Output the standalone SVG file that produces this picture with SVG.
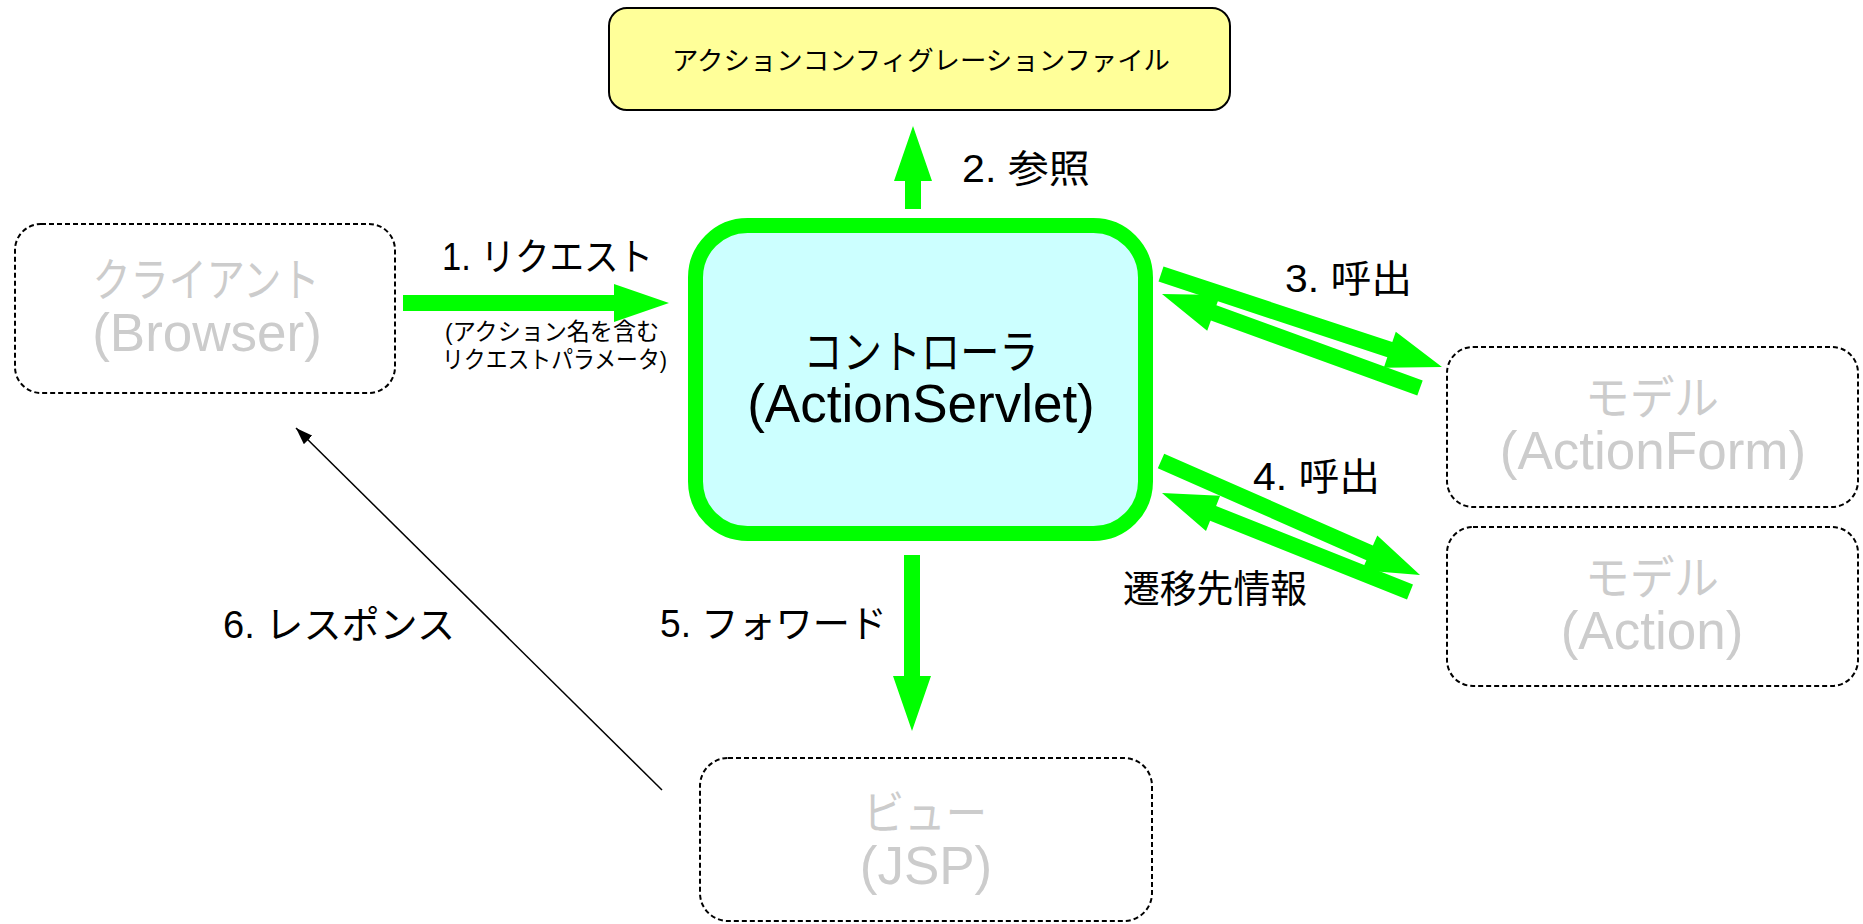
<svg xmlns="http://www.w3.org/2000/svg" width="1863" height="924" viewBox="0 0 1863 924">
<style>
text { font-family: "Liberation Sans", "Noto Sans CJK JP", sans-serif; }
.lbl { fill: #000; font-size: 38px; }
.sub { fill: #000; font-size: 24px; }
.ghost { fill: #CCCCCC; }
.big { font-size: 53px; text-anchor: middle; }
.kana { font-size: 46px; text-anchor: middle; }
.dash { fill: #FFFFFF; stroke: #000; stroke-width: 2; stroke-dasharray: 5 3; }
.garrow { fill: #00FF00; stroke: none; }
</style>
<defs>
<marker id="blk" viewBox="0 -6 17 12" refX="17" refY="0" markerWidth="17" markerHeight="12" markerUnits="userSpaceOnUse" orient="auto">
<path d="M0,-6 L17,0 L0,6 z" fill="#000"/>
</marker>
</defs>
<rect width="1863" height="924" fill="#FFFFFF"/>

<g id="config">
<rect x="609" y="8" width="621" height="102" rx="18" ry="18" fill="#FFFF99" stroke="#000" stroke-width="2"/>
<text x="921" y="70" font-size="26" text-anchor="middle" textLength="498" lengthAdjust="spacingAndGlyphs" fill="#000">アクションコンフィグレーションファイル</text>
</g>

<g id="client">
<rect class="dash" x="15" y="224" width="380" height="169" rx="26" ry="26"/>
<text class="ghost kana" x="206" y="296" textLength="227" lengthAdjust="spacingAndGlyphs">クライアント</text>
<text class="ghost big" x="207" y="351">(Browser)</text>
</g>

<g id="controller">
<rect x="695.5" y="225.5" width="450" height="308" rx="52" ry="52" fill="#CCFFFF" stroke="#00FF00" stroke-width="15"/>
<text class="kana" x="921" y="368" fill="#000" textLength="235" lengthAdjust="spacingAndGlyphs">コントローラ</text>
<text class="big" x="921" y="422" fill="#000">(ActionServlet)</text>
</g>

<g id="actionform">
<rect class="dash" x="1447" y="347" width="411" height="160" rx="26" ry="26"/>
<text class="ghost kana" x="1652" y="414" textLength="134" lengthAdjust="spacingAndGlyphs">モデル</text>
<text class="ghost big" x="1653" y="469">(ActionForm)</text>
</g>

<g id="action">
<rect class="dash" x="1447" y="527" width="411" height="159" rx="26" ry="26"/>
<text class="ghost kana" x="1652" y="594" textLength="134" lengthAdjust="spacingAndGlyphs">モデル</text>
<text class="ghost big" x="1652" y="649">(Action)</text>
</g>

<g id="view">
<rect class="dash" x="700" y="758" width="452" height="163" rx="28" ry="28"/>
<text class="ghost kana" x="925" y="829" textLength="124" lengthAdjust="spacingAndGlyphs">ビュー</text>
<text class="ghost big" x="926" y="884">(JSP)</text>
</g>

<g id="connectors">
<polygon class="garrow" points="403,295 614,295 614,284 669,303 614,322 614,311 403,311"/>
<polygon class="garrow" points="905,209 905,181 894,181 913,126 932,181 921,181 921,209"/>
<polygon class="garrow" points="1163.5,266.4 1392.3,342.1 1395.8,331.7 1442,367 1383.8,367.8 1387.3,357.3 1158.5,281.6"/>
<polygon class="garrow" points="1422.7,380.5 1216.4,305.3 1220.2,295 1162,294 1207.2,330.7 1210.9,320.4 1417.3,395.5"/>
<polygon class="garrow" points="1164.2,453.7 1372.9,545.5 1377.3,535.5 1420,575 1362,570.2 1366.4,560.2 1157.8,468.3"/>
<polygon class="garrow" points="1413,584.6 1216.1,506 1220.1,495.7 1162,493 1206,531 1210.1,520.8 1407,599.4"/>
<polygon class="garrow" points="904,555 904,676 893,676 912,731 931,676 920,676 920,555"/>
<line x1="662" y1="790" x2="296" y2="428" stroke="#000" stroke-width="1.5" marker-end="url(#blk)"/>

<text class="lbl" x="442" y="270" textLength="211" lengthAdjust="spacingAndGlyphs">1. リクエスト</text>
<text class="sub" x="445" y="340" textLength="214" lengthAdjust="spacingAndGlyphs">(アクション名を含む</text>
<text class="sub" x="442" y="368" textLength="225" lengthAdjust="spacingAndGlyphs">リクエストパラメータ)</text>
<text class="lbl" x="962" y="182" textLength="128" lengthAdjust="spacingAndGlyphs">2. 参照</text>
<text class="lbl" x="1285" y="292" textLength="127" lengthAdjust="spacingAndGlyphs">3. 呼出</text>
<text class="lbl" x="1253" y="490" textLength="127" lengthAdjust="spacingAndGlyphs">4. 呼出</text>
<text class="lbl" x="1123" y="602" textLength="184" lengthAdjust="spacingAndGlyphs">遷移先情報</text>
<text class="lbl" x="660" y="637" textLength="227" lengthAdjust="spacingAndGlyphs">5. フォワード</text>
<text class="lbl" x="223" y="638" textLength="232" lengthAdjust="spacingAndGlyphs">6. レスポンス</text>
</g>
</svg>
